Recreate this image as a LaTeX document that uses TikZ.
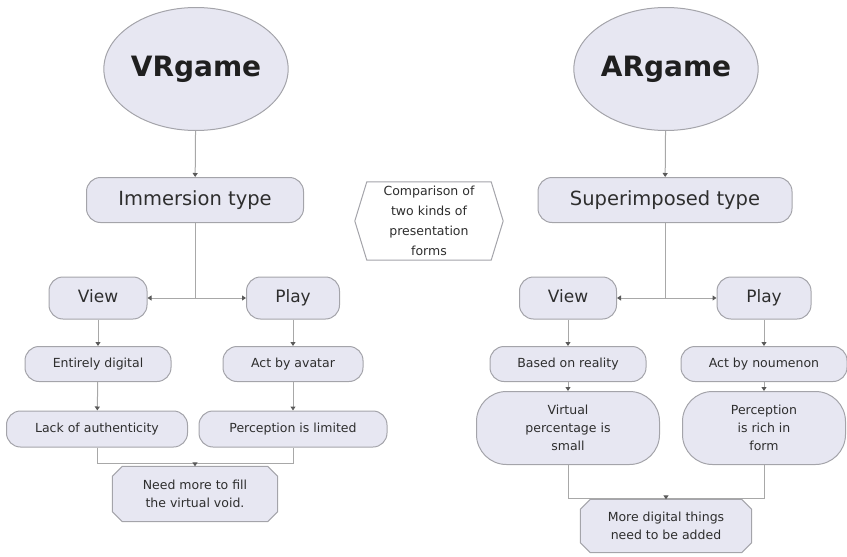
\documentclass[tikz,border=0pt]{standalone}
\usepackage{fontspec}
\setmainfont{DejaVu Sans}
\usetikzlibrary{shapes.geometric,arrows.meta,calc,backgrounds}
\definecolor{boxfill}{HTML}{E7E7F2}
\definecolor{boxline}{HTML}{A4A4AA}
\definecolor{wire}{HTML}{A8A8A8}
\definecolor{tip}{HTML}{5A5A5A}
\definecolor{ink}{HTML}{2E2E2E}
\tikzset{
  base/.style={draw=boxline, fill=boxfill, line width=1pt, text=ink, align=center, inner sep=0pt},
  oval/.style={base, ellipse, font=\fontsize{28}{32}\selectfont\bfseries, text=black!88},
  pill/.style={base, rounded corners=14pt},
  bigpill/.style={base, rounded corners=30pt},
  plain/.style={text=ink, align=center, inner sep=0pt},
  headtxt/.style={font=\fontsize{19.5}{22}\selectfont, text height=14.5pt, text depth=4pt},
  midtxt/.style={font=\fontsize{17}{20}\selectfont, text height=12.5pt, text depth=3.5pt},
  smalltxt/.style={font=\fontsize{12.5}{18}\selectfont},
  oneline/.style={smalltxt, text height=9.5pt, text depth=2.5pt},
  hextxt/.style={font=\fontsize{12.5}{20}\selectfont},
  link/.style={draw=wire, line width=1pt},
  arr/.style={link, -{Triangle[width=5pt,length=4pt,color=tip,fill=tip]}},
  cutline/.style={draw=boxline, fill=boxfill, line width=1pt},
}
\begin{document}
\begin{tikzpicture}[x=1pt,y=-1pt]
\useasboundingbox (0,0) rectangle (847,557);

% ---- VR branch ----
\node[oval, minimum width=168pt, minimum height=123pt] (vr) at (196,69) {VRgame};
\node[pill, headtxt, minimum width=217pt, minimum height=45pt] (imm) at (195,200) {Immersion type};
\node[pill, midtxt, minimum width=98pt, minimum height=42pt] (vview) at (98,298) {View};
\node[pill, midtxt, minimum width=93pt, minimum height=42pt] (vplay) at (293,298) {Play};
\node[pill, oneline, minimum width=146pt, minimum height=35pt] (vdig) at (98,364) {Entirely digital};
\node[pill, oneline, minimum width=140pt, minimum height=35pt] (vava) at (293,364) {Act by avatar};
\node[pill, oneline, minimum width=181pt, minimum height=36pt] (vlack) at (97,429) {Lack of authenticity};
\node[pill, oneline, minimum width=188pt, minimum height=36pt] (vlim) at (293,429) {Perception is limited};
\node[plain, smalltxt, minimum width=165pt, minimum height=55pt] (vneed) at (195,494) {Need more to fill\\the virtual void.};

\coordinate (vj) at (imm.south |- vview.east);
\coordinate (vm) at (195,463);
\draw[arr] (vr) -- (imm);
\draw[link] (imm.south) -- (vj);
\draw[arr] (vj) -- (vview.east);
\draw[arr] (vj) -- (vplay.west);
\draw[arr] (vview) -- (vdig);
\draw[arr] (vplay) -- (vava);
\draw[arr] (vdig) -- (vlack);
\draw[arr] (vava) -- (vlim);
\draw[link] (vlack.south) -- (vlack.south |- vm) -- (vlim.south |- vm) -- (vlim.south);
\draw[arr] (vm) -- (vneed.north);

% ---- centre label ----
\node[plain, hextxt, minimum width=148pt, minimum height=78pt] (cmp) at (429,221)
  {Comparison of\\two kinds of\\presentation\\forms};

% ---- AR branch ----
\node[oval, minimum width=170pt, minimum height=123pt] (ar) at (666,69) {ARgame};
\node[pill, headtxt, minimum width=254pt, minimum height=45pt] (sup) at (665,200) {Superimposed type};
\node[pill, midtxt, minimum width=97pt, minimum height=42pt] (aview) at (568,298) {View};
\node[pill, midtxt, minimum width=94pt, minimum height=42pt] (aplay) at (764,298) {Play};
\node[pill, oneline, minimum width=156pt, minimum height=35pt] (areal) at (568,364) {Based on reality};
\node[pill, oneline, minimum width=166pt, minimum height=35pt] (anou) at (764,364) {Act by noumenon};
\node[bigpill, smalltxt, minimum width=183pt, minimum height=73pt] (avirt) at (568,428) {Virtual\\percentage is\\small};
\node[bigpill, smalltxt, minimum width=163pt, minimum height=73pt] (arich) at (764,428) {Perception\\is rich in\\form};
\node[plain, smalltxt, minimum width=171pt, minimum height=53pt] (amore) at (666,526) {More digital things\\need to be added};

\coordinate (aj) at (sup.south |- aview.east);
\coordinate (am) at (666,498);
\draw[arr] (ar) -- (sup);
\draw[link] (sup.south) -- (aj);
\draw[arr] (aj) -- (aview.east);
\draw[arr] (aj) -- (aplay.west);
\draw[arr] (aview) -- (areal);
\draw[arr] (aplay) -- (anou);
\draw[arr] (areal) -- (avirt);
\draw[arr] (anou) -- (arich);
\draw[link] (avirt.south) -- (avirt.south |- am) -- (arich.south |- am) -- (arich.south);
\draw[arr] (am) -- (amore.north);

% ---- outlines drawn behind their texts ----
\begin{scope}[on background layer]
  % hexagon round the centre label
  \draw[draw=boxline, fill=white, line width=1pt]
    ($(cmp.north west)+(12,0)$) -- ($(cmp.north east)+(-12,0)$) -- (cmp.east)
    -- ($(cmp.south east)+(-12,0)$) -- ($(cmp.south west)+(12,0)$) -- (cmp.west) -- cycle;
  % boxes with cut corners
  \foreach \b in {vneed, amore} {
    \draw[cutline]
      ($(\b.north west)+(10,0)$) -- ($(\b.north east)+(-10,0)$) -- ($(\b.north east)+(0,10)$)
      -- ($(\b.south east)+(0,-10)$) -- ($(\b.south east)+(-10,0)$) -- ($(\b.south west)+(10,0)$)
      -- ($(\b.south west)+(0,-10)$) -- ($(\b.north west)+(0,10)$) -- cycle;
  }
\end{scope}
\end{tikzpicture}
\end{document}
